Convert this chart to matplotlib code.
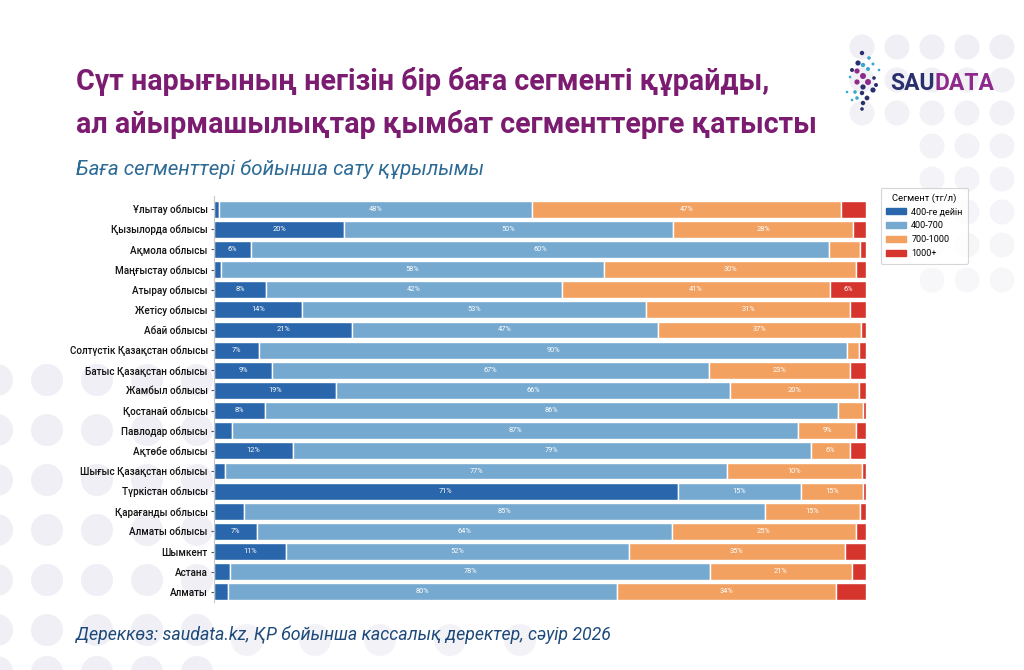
import matplotlib
matplotlib.use("Agg")
import matplotlib.pyplot as plt
from matplotlib.patches import Circle, Patch
import numpy as np

# --- data ---
regions = ["Ұлытау облысы", "Қызылорда облысы", "Ақмола облысы", "Маңғыстау облысы",
           "Атырау облысы", "Жетісу облысы", "Абай облысы", "Солтүстік Қазақстан облысы",
           "Батыс Қазақстан облысы", "Жамбыл облысы", "Қостанай облысы", "Павлодар облысы",
           "Ақтөбе облысы", "Шығыс Қазақстан облысы", "Түркістан облысы", "Қарағанды облысы",
           "Алматы облысы", "Шымкент", "Астана", "Алматы"]
segments = ["400-ге дейін", "400-700", "700-1000", "1000+"]

# bar widths, share of sales (%)
seg_lo = [0.8, 20.0, 5.7, 1.1, 8.0, 13.5, 21.2, 6.9, 8.9, 18.7,
          7.8, 2.8, 12.1, 1.7, 71.1, 4.6, 6.6, 11.1, 2.5, 2.2]
seg_mid = [48.0, 50.4, 88.6, 58.7, 45.3, 52.8, 46.9, 90.2, 67.0, 60.5,
           87.9, 86.8, 79.4, 77.0, 19.0, 79.9, 63.6, 52.5, 73.6, 59.6]
seg_high = [47.3, 27.6, 4.8, 38.7, 41.2, 31.2, 31.2, 1.8, 21.7, 19.7,
            3.8, 8.9, 6.0, 20.7, 9.5, 14.6, 28.3, 33.2, 21.7, 33.6]
seg_top = [3.9, 2.0, 0.9, 1.5, 5.5, 2.5, 0.7, 1.1, 2.4, 1.1,
           0.5, 1.5, 2.5, 0.6, 0.4, 0.9, 1.5, 3.2, 2.2, 4.6]

# labels printed on the bars (0 = no label)
lbl_lo = [0, 20, 6, 0, 8, 14, 21, 7, 9, 19, 8, 0, 12, 0, 71, 0, 7, 11, 0, 0]
lbl_mid = [48, 50, 60, 58, 42, 53, 47, 90, 67, 66, 86, 87, 79, 77, 15, 85, 64, 52, 78, 80]
lbl_high = [47, 28, 0, 30, 41, 31, 37, 0, 23, 20, 0, 9, 6, 10, 15, 15, 25, 35, 21, 34]
lbl_top = [0, 0, 0, 0, 6, 0, 0, 0, 0, 0, 0, 0, 0, 0, 0, 0, 0, 0, 0, 0]

colors = ["#2a66ab", "#76a9d0", "#f2a161", "#d5352c"]
cond = ["Roboto", "DejaVu Sans"]

W, H = 1024, 670
fig = plt.figure(figsize=(W / 100, H / 100), dpi=100)
fig.patch.set_facecolor("white")

# background layer in pixel coordinates
bg = fig.add_axes([0, 0, 1, 1])
bg.set_xlim(0, W)
bg.set_ylim(H, 0)
bg.axis("off")

dot = "#efeff5"
for i, yy in enumerate([47, 80, 113, 146, 179, 212, 245, 280]):
    for xx in [862, 897, 932, 967, 1002]:
        if yy > 140 and xx < 930:
            continue
        bg.add_patch(Circle((xx, yy), 12.5, color=dot, alpha=max(0.35, 1 - i * 0.08), lw=0))
for yy in [380, 430, 480, 530, 580, 630, 672]:
    for xx in [-3, 47, 97, 147, 197]:
        bg.add_patch(Circle((xx, yy), 16, color=dot, lw=0))
for xx in [247, 315, 380, 450, 520]:
    bg.add_patch(Circle((xx, 640), 16, color=dot, lw=0, alpha=0.7))

# logo dots
logo = [(862, 53, "#2a2f6e", 2.2), (869, 58, "#3ba6cf", 1.8), (858, 63, "#2a2f6e", 2.6),
        (863, 65, "#3ba6cf", 2.2), (873, 64, "#3ba6cf", 1.5), (857, 71, "#8e2a8c", 2.6),
        (868, 69, "#3ba6cf", 2.0), (879, 70, "#3ba6cf", 1.3), (863, 76, "#8e2a8c", 3.0),
        (850, 77, "#3ba6cf", 1.3), (857, 82, "#8e2a8c", 2.6), (868, 82, "#8e2a8c", 3.0),
        (874, 78, "#2a2f6e", 1.8), (847, 92, "#3ba6cf", 1.3), (855, 92, "#3ba6cf", 1.8),
        (863, 87, "#2a2f6e", 2.6), (873, 90, "#2a2f6e", 2.6), (862, 93, "#2a2f6e", 2.2),
        (867, 98, "#2a2f6e", 2.4), (857, 98, "#3ba6cf", 1.8), (863, 103, "#2a2f6e", 2.2),
        (862, 109, "#2a2f6e", 1.8), (852, 100, "#3ba6cf", 1.3), (852, 70, "#2a2f6e", 2.0),
        (876, 85, "#2a2f6e", 2.0)]
for lx, ly, lc, lr in logo:
    bg.add_patch(Circle((lx, ly), lr, color=lc, lw=0))
bg.text(935, 90, "SAU", ha="right", va="baseline", fontsize=16.5, fontweight="bold",
        color="#2a2f6e", family=cond)
bg.text(935, 90, "DATA", ha="left", va="baseline", fontsize=16.5, fontweight="bold",
        color="#8e2a8c", family=cond)

# titles
bg.text(76, 90, "Сүт нарығының негізін бір баға сегменті құрайды,", fontsize=20.6,
        fontweight="bold", color="#7b1c70", family=cond, va="baseline")
bg.text(76, 133, "ал айырмашылықтар қымбат сегменттерге қатысты", fontsize=20.6,
        fontweight="bold", color="#7b1c70", family=cond, va="baseline")
bg.text(76, 175, "Баға сегменттері бойынша сату құрылымы", fontsize=14.8,
        style="italic", color="#2d6b96", family=cond, va="baseline")
bg.text(76, 640, "Дереккөз: saudata.kz, ҚР бойынша кассалық деректер, сәуір 2026",
        fontsize=12.75, style="italic", color="#1d4a7a", family=cond, va="baseline")

# chart
ax = fig.add_axes([214 / W, 1 - 602 / H, (866 - 214) / W, (602 - 196) / H])
ax.set_facecolor("none")
y = np.arange(len(regions))
left = np.zeros(len(regions))
series = [seg_lo, seg_mid, seg_high, seg_top]
labels = [lbl_lo, lbl_mid, lbl_high, lbl_top]
for k in range(4):
    vals = np.array(series[k])
    ax.barh(y, vals, left=left, height=0.84, color=colors[k], edgecolor="white",
            linewidth=1.0, zorder=2)
    for i in range(len(regions)):
        if labels[k][i]:
            ax.text(left[i] + vals[i] / 2, y[i], f"{labels[k][i]}%", ha="center",
                    va="center", color="white", fontsize=5.3, family=cond, zorder=3)
    left += vals

ax.set_xlim(0, 100)
ax.set_ylim(19.5, -0.65)
ax.set_yticks(y)
ax.set_yticklabels(regions, family=cond, fontsize=7.1, color="#111111", fontweight="medium")
ax.tick_params(axis="y", length=2.5, width=0.8, color="#555555", pad=2)
ax.set_xticks([])
for s in ["top", "right", "bottom"]:
    ax.spines[s].set_visible(False)
ax.spines["left"].set_color("#c8c8c8")
ax.spines["left"].set_linewidth(0.8)

handles = [Patch(facecolor=colors[k], edgecolor=colors[k]) for k in range(4)]
leg = fig.legend(handles, segments, title="Сегмент (тг/л)", loc="upper left",
                 bbox_to_anchor=(876 / W, 1 - 183 / H), bbox_transform=fig.transFigure,
                 frameon=True, fancybox=True,
                 handlelength=2.2, handleheight=0.7, labelspacing=0.55, handletextpad=0.6,
                 borderpad=0.6, edgecolor="#cccccc", prop={"family": cond, "size": 6.5})
leg.get_title().set_family(cond)
leg.get_title().set_fontsize(6.8)
leg.get_frame().set_linewidth(0.8)

fig.savefig("out.png", dpi=100, facecolor="white")
